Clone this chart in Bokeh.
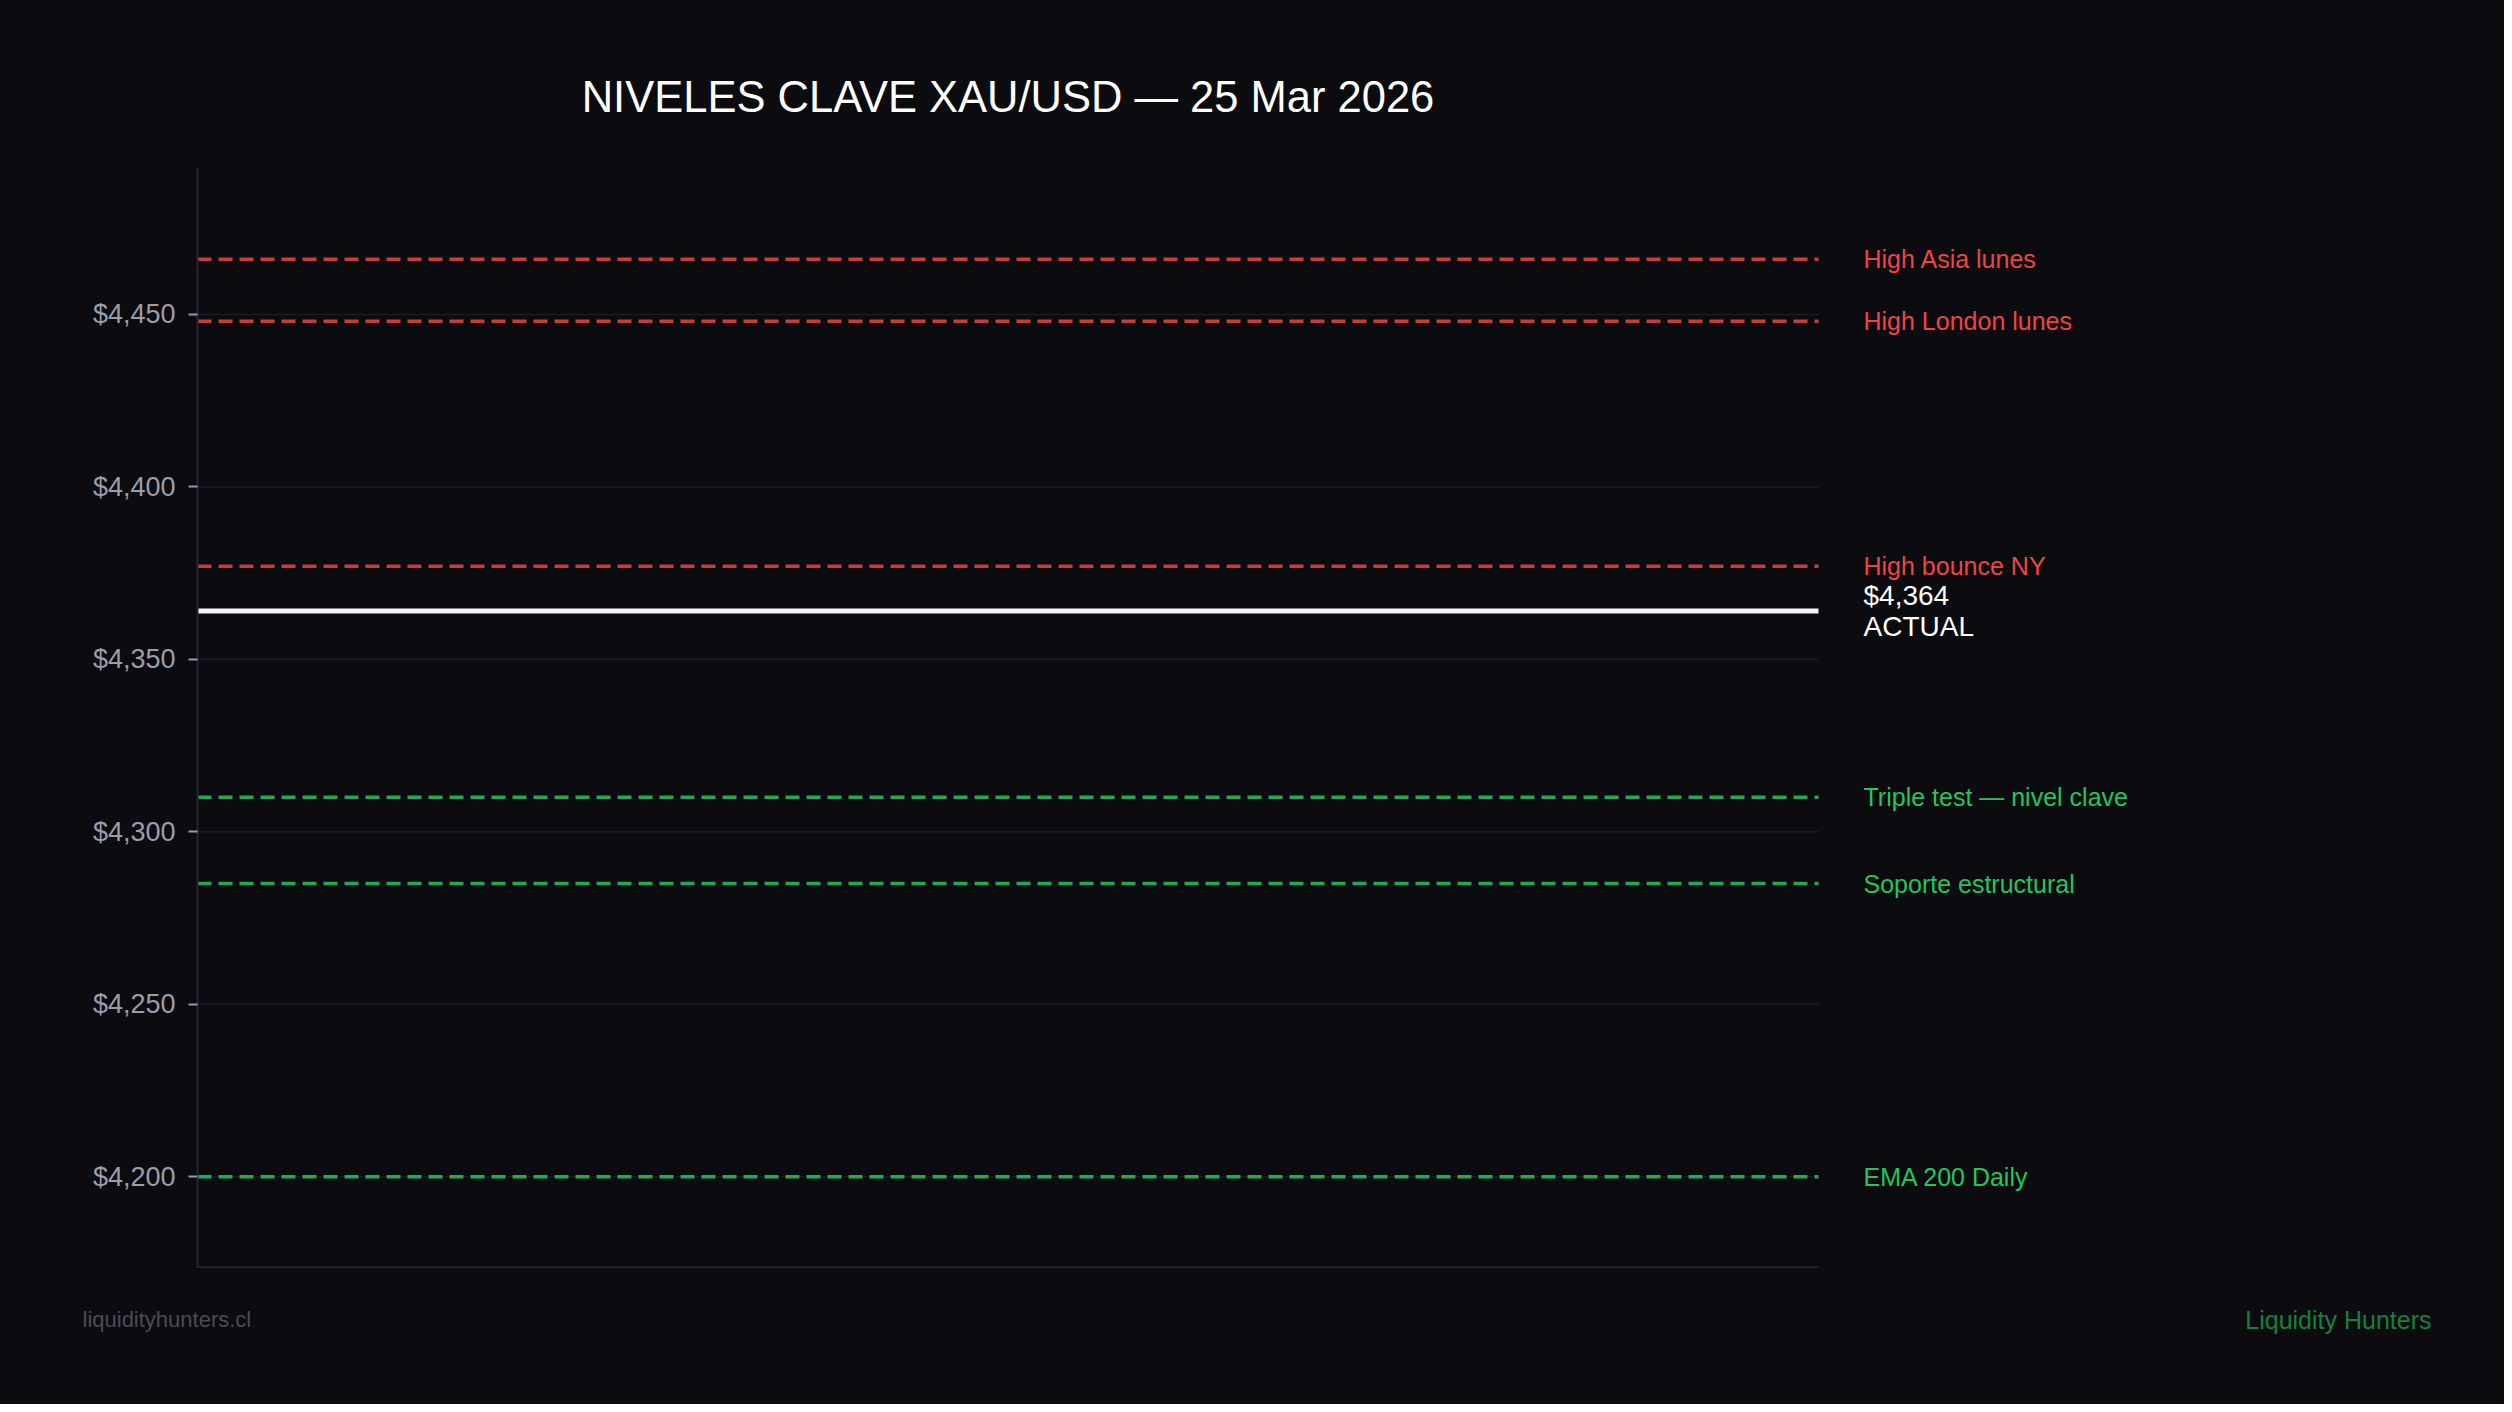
from bokeh.plotting import figure
from bokeh.models import Range1d, ColumnDataSource, FixedTicker, NumeralTickFormatter
from bokeh.layouts import column
from bokeh.core.properties import value
from bokeh.embed import file_html
from bokeh.resources import INLINE

# ---------------- data ----------------
level_values = [4466, 4448, 4377, 4310, 4285, 4200]
level_labels = ["High Asia lunes", "High London lunes", "High bounce NY",
                "Triple test — nivel clave", "Soporte estructural", "EMA 200 Daily"]
level_kinds = ["res", "res", "res", "sup", "sup", "sup"]
current_price = 4364
current_label = "$4,364\nACTUAL"
y_ticks = [4200, 4250, 4300, 4350, 4400, 4450]
title_text = "NIVELES CLAVE XAU/USD — 25 Mar 2026"
footer_left = "liquidityhunters.cl"
footer_right = "Liquidity Hunters"

# ---------------- style / layout ----------------
BG = "#0b0b10"
FONT = "Liberation Sans"
RED = "#ef4444"
GREEN = "#22c55e"
kind_color = {"res": RED, "sup": GREEN}
AXIS_C = "#25243a"

W, H = 2504, 1404
AX_L, AX_R, AX_T, AX_B = 197, 1818, 167, 1268      # plot box in page pixels
main_h = AX_B - AX_T
x_end = (W - AX_L) / (AX_R - AX_L)                   # room for the right-hand labels

pad = 0.1 * (max(level_values) - min(level_values))
y0 = min(level_values) - pad
y1 = max(level_values) + pad


def strip(height):
    f = figure(width=W, height=height, output_backend="svg", toolbar_location=None,
               tools="", x_range=Range1d(0, W), y_range=Range1d(height, 0),
               x_axis_location=None, y_axis_location=None, min_border=0,
               frame_align=False)
    f.background_fill_color = BG
    f.border_fill_color = BG
    f.outline_line_color = None
    f.xgrid.visible = False
    f.ygrid.visible = False
    return f


# ---------------- title strip ----------------
top = strip(AX_T)
top.text(x=[(AX_L + AX_R) / 2], y=[96], text=[title_text], text_font=value(FONT),
         text_font_size=value("43.5px"), text_color="#ffffff",
         text_align="center", text_baseline="middle")

# ---------------- main chart ----------------
p = figure(width=W, height=main_h, output_backend="svg", toolbar_location=None, tools="",
           x_range=Range1d(0, x_end), y_range=Range1d(y0, y1), x_axis_location=None,
           min_border_left=AX_L, min_border_right=0, min_border_top=0, min_border_bottom=0,
           frame_align=False)
p.background_fill_color = BG
p.border_fill_color = BG
p.outline_line_color = None
p.xgrid.visible = False
p.ygrid.visible = False

p.yaxis.ticker = FixedTicker(ticks=y_ticks)
p.yaxis.formatter = NumeralTickFormatter(format="$0,0")
p.yaxis.axis_line_color = AXIS_C
p.yaxis.axis_line_width = 2
p.yaxis.major_tick_line_color = "#9a9aa6"
p.yaxis.major_tick_line_width = 2
p.yaxis.major_tick_out = 9
p.yaxis.major_tick_in = 0
p.yaxis.minor_tick_line_color = None
p.yaxis.major_label_standoff = 13
p.yaxis.major_label_text_font = FONT
p.yaxis.major_label_text_font_size = "27px"
p.yaxis.major_label_text_color = "#9d9daa"

# grid lines (only across the plot box)
grid = ColumnDataSource(dict(y=y_ticks))
p.segment(x0=0, x1=1, y0="y", y1="y", source=grid, line_color="#1b1a26", line_width=1.5)

# bottom spine
p.segment(x0=[0], x1=[1], y0=[y0], y1=[y0], line_color=AXIS_C, line_width=4)

# level lines
colors = [kind_color[k] for k in level_kinds]
src = ColumnDataSource(dict(y=level_values, label=level_labels, color=colors,
                            x=[1] * len(level_values)))
p.segment(x0=0, x1=1, y0="y", y1="y", source=src, line_color="color", line_alpha=0.85,
          line_width=3.5, line_dash="14 7")

# current price
cur = ColumnDataSource(dict(y=[current_price], label=[current_label], x=[1]))
p.segment(x0=0, x1=1, y0="y", y1="y", source=cur, line_color="#f4f4f4", line_width=5)

# right labels
p.text(x="x", y="y", text="label", source=src, x_offset=45, text_color="color",
       text_font=value(FONT), text_font_size=value("25px"),
       text_baseline="middle", text_align="left")
p.text(x="x", y="y", text="label", source=cur, x_offset=45, text_color="#ffffff",
       text_font=value(FONT), text_font_size=value("28px"),
       text_baseline="middle", text_align="left", text_line_height=1.0)

# ---------------- footer strip ----------------
bot = strip(H - AX_B)
bot.text(x=[82], y=[51], text=[footer_left], text_font=value(FONT),
         text_font_size=value("22px"), text_color="#4b4b55",
         text_align="left", text_baseline="middle")
bot.text(x=[2431], y=[51], text=[footer_right], text_font=value(FONT),
         text_font_size=value("25px"), text_color="#15803d",
         text_align="right", text_baseline="middle")

layout = column(top, p, bot, spacing=0, styles={"background-color": BG})
open("out.html", "w").write(file_html(layout, INLINE))
